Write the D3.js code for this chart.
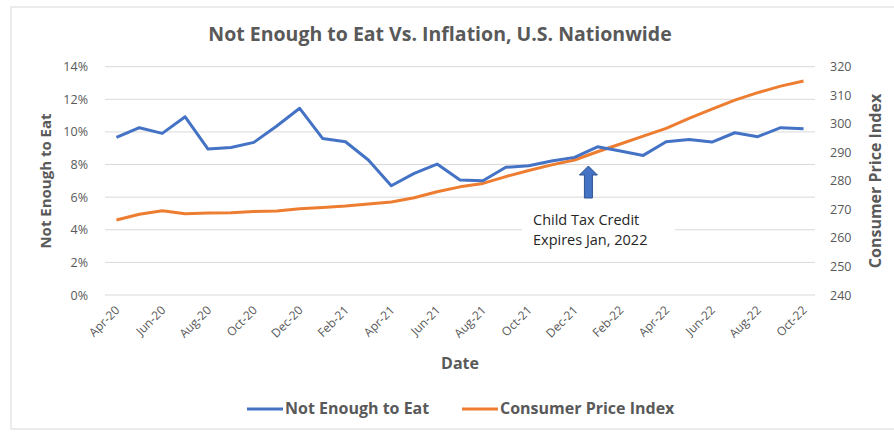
<!DOCTYPE html>
<html>
<head>
<meta charset="utf-8">
<script src="https://cdn.jsdelivr.net/npm/d3@7"></script>
<style>
  body { margin: 0; background: #fff; }
  svg { font-family: "Open Sans", sans-serif; }
</style>
</head>
<body>
<div id="chart"></div>
<script>
// Data
const months = ["Apr-20", "May-20", "Jun-20", "Jul-20", "Aug-20", "Sep-20", "Oct-20", "Nov-20", "Dec-20",
  "Jan-21", "Feb-21", "Mar-21", "Apr-21", "May-21", "Jun-21", "Jul-21", "Aug-21", "Sep-21", "Oct-21", "Nov-21", "Dec-21",
  "Jan-22", "Feb-22", "Mar-22", "Apr-22", "May-22", "Jun-22", "Jul-22", "Aug-22", "Sep-22", "Oct-22"];
const notEnough = [9.67, 10.26, 9.91, 10.93, 8.95, 9.05, 9.36, 10.36, 11.45,
  9.6, 9.4, 8.28, 6.7, 7.46, 8.03, 7.05, 7.01, 7.83, 7.93, 8.22, 8.44,
  9.09, 8.83, 8.56, 9.4, 9.54, 9.38, 9.95, 9.71, 10.26, 10.2];
const cpi = [266.3, 268.3, 269.5, 268.5, 268.7, 268.8, 269.3, 269.4, 270.2,
  270.7, 271.2, 271.9, 272.6, 274.1, 276.2, 277.9, 279.1, 281.5, 283.6, 285.6, 287.3,
  290.2, 292.9, 295.7, 298.4, 301.9, 305.1, 308.3, 310.9, 313.2, 315.0];
const leftTicks = [0, 2, 4, 6, 8, 10, 12, 14];
const rightTicks = [240, 250, 260, 270, 280, 290, 300, 310, 320];
const labelMonths = months.filter((m, i) => i % 2 === 0);

const w = 894, h = 432;
const plot = { left: 105, right: 815, top: 66.7, bottom: 295 };
const grey = "#595959";
const blue = "#4472C4", orange = "#ED7D31";

const svg = d3.select("#chart").append("svg")
  .attr("width", w).attr("height", h);

// chart border
svg.append("rect")
  .attr("x", 11).attr("y", 7).attr("width", w).attr("height", 422)
  .attr("fill", "#fff").attr("stroke", "#d9d9d9");

// Scales
const x = d3.scaleBand().domain(months).range([plot.left, plot.right]);
const xc = d => x(d) + x.bandwidth() / 2;
const yL = d3.scaleLinear().domain([0, 14]).range([plot.bottom, plot.top]);
const yR = d3.scaleLinear().domain([240, 320]).range([plot.bottom, plot.top]);

// Gridlines
svg.append("g").selectAll("line").data(leftTicks).enter().append("line")
  .attr("x1", plot.left).attr("x2", plot.right)
  .attr("y1", d => yL(d)).attr("y2", d => yL(d))
  .attr("stroke", "#d9d9d9").attr("stroke-width", 1);

// Axes
const leftAxis = svg.append("g")
  .attr("transform", "translate(" + (plot.left - 14) + ",0)")
  .call(d3.axisLeft(yL).tickValues(leftTicks).tickFormat(d => d + "%").tickSize(0));
const rightAxis = svg.append("g")
  .attr("transform", "translate(" + (plot.right + 12) + ",0)")
  .call(d3.axisRight(yR).tickValues(rightTicks).tickSize(0));
const bottomAxis = svg.append("g")
  .attr("transform", "translate(0," + plot.bottom + ")")
  .call(d3.axisBottom(x).tickValues(labelMonths).tickSize(0));

[leftAxis, rightAxis, bottomAxis].forEach(g => {
  g.select(".domain").remove();
  g.selectAll("text").attr("fill", grey).style("font-size", "12.5px")
    .style("font-family", "'Open Sans', sans-serif");
});
bottomAxis.selectAll("text")
  .style("font-size", "12px")
  .attr("text-anchor", "end")
  .attr("dy", null).attr("y", 0)
  .attr("transform", "translate(4,16) rotate(-45)");

// Lines
const blueLine = d3.line().x((d, i) => xc(months[i])).y(d => yL(d));
const orangeLine = d3.line().x((d, i) => xc(months[i])).y(d => yR(d));

svg.append("path").datum(cpi)
  .attr("d", orangeLine).attr("fill", "none")
  .attr("stroke", orange).attr("stroke-width", 3).attr("stroke-linejoin", "round");
svg.append("path").datum(notEnough)
  .attr("d", blueLine).attr("fill", "none")
  .attr("stroke", blue).attr("stroke-width", 3).attr("stroke-linejoin", "round");

// Annotation
const ax = xc("Jan-22") - 9;
svg.append("path")
  .attr("d", "M" + ax + ",166 l9,9 h-5 v23 h-8 v-23 h-5 z")
  .attr("fill", blue).attr("stroke", "#2f528f").attr("stroke-width", 1);
svg.append("rect")
  .attr("x", 522).attr("y", 208).attr("width", 153).attr("height", 44)
  .attr("fill", "#fff");
svg.append("text").attr("x", 533).attr("y", 225)
  .attr("fill", "#262626").style("font-size", "14.5px").text("Child Tax Credit");
svg.append("text").attr("x", 533).attr("y", 245)
  .attr("fill", "#262626").style("font-size", "14.5px").text("Expires Jan, 2022");

// Titles
svg.append("text").attr("x", 440).attr("y", 41)
  .attr("text-anchor", "middle").attr("fill", grey)
  .style("font-size", "19.5px").style("font-weight", "bold")
  .text("Not Enough to Eat Vs. Inflation, U.S. Nationwide");

svg.append("text").attr("x", 460).attr("y", 369)
  .attr("text-anchor", "middle").attr("fill", grey)
  .style("font-size", "16px").style("font-weight", "bold")
  .text("Date");

svg.append("text")
  .attr("transform", "translate(51,181) rotate(-90)")
  .attr("text-anchor", "middle").attr("fill", grey)
  .style("font-size", "15px").style("font-weight", "bold")
  .text("Not Enough to Eat");

svg.append("text")
  .attr("transform", "translate(881,181) rotate(-90)")
  .attr("text-anchor", "middle").attr("fill", grey)
  .style("font-size", "16px").style("font-weight", "bold")
  .text("Consumer Price Index");

// Legend
const legend = [["Not Enough to Eat", blue, 247], ["Consumer Price Index", orange, 462]];
legend.forEach(l => {
  svg.append("line")
    .attr("x1", l[2]).attr("x2", l[2] + 36)
    .attr("y1", 409).attr("y2", 409)
    .attr("stroke", l[1]).attr("stroke-width", 3);
  svg.append("text").attr("x", l[2] + 38).attr("y", 414)
    .attr("fill", grey).style("font-size", "16px").style("font-weight", "bold")
    .text(l[0]);
});
</script>
</body>
</html>
